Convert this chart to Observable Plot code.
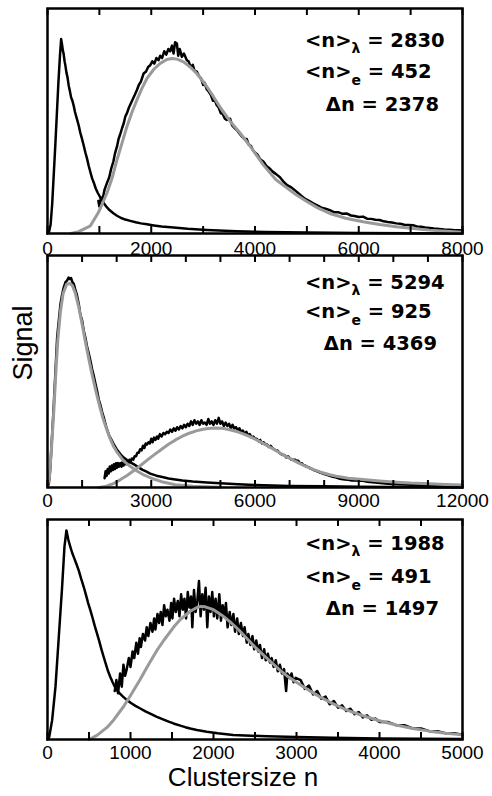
<!DOCTYPE html>
<html><head><meta charset="utf-8">
<script src="https://cdn.jsdelivr.net/npm/d3@7"></script>
<script src="https://cdn.jsdelivr.net/npm/@observablehq/plot@0.6"></script>
<style>
body{margin:0;background:#fff;}
#fig{position:relative;width:492px;height:796px;overflow:hidden;background:#fff;}
#fig svg{position:absolute;left:0;overflow:visible;background:transparent;}
</style></head><body><div id="fig"></div>
<script>
// ---------- Panel 1 data (n, signal) ----------
const p1Narrow = [[0,0],[30,0.8],[60,4],[90,13],[120,26],[150,39],[180,53],[210,67],[240,79],[263,86.4],[280,84],[295,81.5],[310,80],[330,76.5],[346,74.5],[365,71.5],[385,69.5],[410,65.6],[430,63.5],[455,60.5],[480,59],[506,56.7],[530,54],[560,51.5],[603,47.9],[630,45],[660,42.5],[699,39],[730,36],[760,33.5],[795,30],[830,27],[860,24.5],[891,22.7],[930,20],[970,18],[1019,16],[1060,14.5],[1100,13],[1147,11.6],[1200,10.3],[1270,9],[1340,7.9],[1420,6.9],[1500,6.2],[1596,5.6],[1700,5],[1800,4.5],[1917,4.1],[2050,3.6],[2200,3.1],[2430,2.7],[2700,2.1],[3071,1.6],[3648,1],[4200,0.7],[5000,0.4],[6000,0.2],[8000,0]];
const p1Broad = [[981,14.4],[1000,12],[1030,16],[1060,15],[1100,19.5],[1147,22.5],[1190,25],[1230,29],[1270,32],[1300,35.5],[1340,38.7],[1370,42],[1400,44],[1440,47],[1470,49],[1500,52],[1532,53.5],[1570,56],[1610,58],[1650,60],[1690,62],[1724,63.8],[1760,66],[1800,67.5],[1853,71.1],[1900,72],[1940,74],[1981,74.8],[2020,76.5],[2060,75.5],[2100,78],[2140,77],[2173,79],[2210,78],[2250,81],[2290,79.5],[2330,82],[2365,81],[2400,83.5],[2430,80],[2460,85],[2494,84.4],[2520,79],[2550,82],[2590,78.5],[2630,80],[2686,77],[2720,76.5],[2760,74],[2800,75],[2840,72],[2878,72],[2920,70],[2960,69],[3000,66],[3030,67],[3071,64],[3110,63],[3150,61.5],[3190,59],[3230,59],[3263,57],[3300,56],[3340,53.5],[3380,53],[3420,51],[3455,50.5],[3519,51],[3560,48],[3600,47],[3650,46],[3700,44.5],[3750,43],[3800,42],[3840,42],[3880,39.5],[3920,39],[3960,37],[4000,36],[4050,35],[4100,33],[4160,32],[4220,30],[4280,29],[4340,27.5],[4400,26.5],[4481,25],[4550,23],[4620,21.5],[4700,20.5],[4801,18.6],[4880,17],[4960,15.5],[5040,14.5],[5122,13.4],[5200,12.5],[5280,11.5],[5360,11],[5442,10.4],[5520,9.5],[5600,9.5],[5680,8.8],[5763,8.9],[5850,8],[5920,7.8],[6000,7.3],[6083,7.5],[6160,6.6],[6240,6.5],[6320,6.1],[6404,6],[6480,5.4],[6560,5.1],[6640,4.9],[6724,4.5],[6800,4.3],[6880,3.9],[6960,3.8],[7045,3.7],[7120,3.1],[7200,3],[7280,2.7],[7365,2.5],[7450,2.2],[7550,2],[7650,1.8],[7750,1.7],[7850,1.5],[7942,1.5],[8000,1.3]];
const p1Fit = [[450,0],[600,0.8],[827,3.4],[981,9.3],[1147,18],[1250,25],[1340,32.8],[1440,40.5],[1532,47.6],[1630,54],[1724,59.4],[1820,64.5],[1917,68.9],[2050,73],[2173,75.6],[2300,77.3],[2400,77.8],[2500,77.5],[2622,76.3],[2750,74],[2878,71.1],[3050,66],[3199,60.8],[3330,56],[3455,52],[3519,49.9],[3700,45],[3900,39],[4160,30.5],[4400,24],[4600,20.5],[4801,17.1],[5000,14.2],[5200,11.5],[5442,8.9],[5750,6.8],[6083,5.2],[6400,4],[6724,3],[7050,2.2],[7365,1.5],[7700,1],[8000,0.6]];
const p1Ticks = [0,1000,2000,3000,4000,5000,6000,7000,8000];
const p1Labels = [0,2000,4000,6000,8000];

// ---------- Panel 2 data ----------
const p2Narrow = [[0,0.5],[38,1.4],[80,8],[120,19],[150,27],[183,36],[230,50],[279,64.7],[330,72.5],[375,79],[420,83],[471,86.3],[520,88.5],[570,89.3],[610,90.5],[644,89.9],[680,90.3],[720,88.5],[760,87.8],[800,85.5],[850,83],[904,79],[950,74.5],[1000,72],[1048,67.6],[1090,65],[1140,61],[1190,58],[1240,54.7],[1290,51],[1340,48],[1390,44.5],[1433,41.7],[1480,38],[1530,35.5],[1580,32.5],[1625,30.2],[1700,26],[1780,22.5],[1850,20.5],[1913,18.7],[2000,16.5],[2100,14.5],[2201,12.9],[2300,11.8],[2400,10.8],[2500,10],[2600,9],[2750,7.6],[2850,6.9],[2971,6],[3150,5.1],[3350,4.4],[3500,3.9],[3644,3.6],[3900,3],[4200,2.6],[4606,2.2],[5000,1.8],[5500,1.4],[6000,1.1],[6500,0.9],[7000,0.7],[8000,0.5],[9000,0.3],[10000,0.2],[12000,0]];
const p2NarrowFit = [[0,0.5],[60,5],[120,18],[183,33],[250,52],[300,64],[375,76],[450,83.5],[550,87.5],[644,88],[720,87],[800,84],[900,78],[1000,70.5],[1100,62.5],[1200,55],[1300,48],[1400,41.5],[1500,35.5],[1600,30],[1700,25.5],[1800,21.5],[1900,18],[2000,15.5],[2200,11.5],[2400,9],[2600,7],[2800,5.3],[3000,4],[3300,2.5],[3700,1.2],[4200,0.5],[5000,0.1]];
const p2Broad = [[1650,4],[1680,7],[1710,5],[1740,8],[1770,6],[1800,9],[1830,7],[1860,9.5],[1890,7.5],[1920,10],[1950,8],[1980,10.5],[2010,8.5],[2040,10.5],[2070,9],[2106,10.5],[2140,9],[2170,11],[2200,9.5],[2240,11],[2270,10],[2300,11],[2340,10.5],[2370,12],[2400,11],[2440,12.5],[2480,12],[2520,13.5],[2560,13.5],[2600,15],[2640,15],[2680,16.5],[2720,16],[2760,18],[2800,17],[2840,19],[2875,18.5],[2920,19.5],[2960,19],[3000,21],[3040,19.5],[3080,21.5],[3120,20.5],[3164,22],[3200,21],[3250,23],[3300,22],[3350,23.5],[3400,23],[3452,24],[3500,23.5],[3550,25],[3600,24],[3650,25.5],[3700,24.5],[3750,26],[3800,25],[3850,26.5],[3900,25.5],[3950,27],[4000,26],[4050,27.5],[4100,26.5],[4150,28.5],[4200,27],[4250,29],[4300,27.5],[4350,28.5],[4400,27],[4450,29],[4500,27.5],[4550,28],[4600,27],[4650,29.5],[4700,27.5],[4750,28.5],[4800,27],[4850,29],[4900,27.5],[4950,30],[5000,27.5],[5050,28.5],[5100,26.5],[5150,28],[5200,26.5],[5250,27.5],[5300,25.5],[5350,27],[5400,25.5],[5450,26],[5500,24.5],[5550,25.5],[5600,24],[5650,24.5],[5700,23],[5750,24],[5800,22.5],[5850,23],[5900,21.5],[5950,22],[6000,21],[6050,21],[6100,20],[6150,20.5],[6200,19],[6250,19.5],[6300,18.5],[6350,18.5],[6400,17.5],[6450,18],[6500,17],[6550,16.5],[6600,16],[6650,16],[6700,15],[6750,14.5],[6800,14],[6850,14],[6900,13],[6950,13.5],[7000,12.8],[7050,12],[7100,12],[7150,12],[7200,11.5],[7250,11.5],[7300,10.5],[7350,10.5],[7400,9.7],[7450,9.5],[7500,9],[7550,8.8],[7600,8.2],[7650,8],[7700,7.5],[7800,7],[7900,6.3],[8000,5.8],[8080,5.5],[8163,5],[8250,4.6],[8330,4.4],[8420,3.9],[8500,3.7],[8600,3.4],[8700,3.3],[8800,3],[8900,3],[9000,2.9],[9125,2.9],[9250,2.5],[9400,2.3],[9550,2],[9700,1.8],[9850,1.6],[10087,1.4],[10300,1.3],[10500,1.2],[10800,1.1],[11048,1],[11300,0.9],[11600,0.8],[12000,0.6]];
const p2BroadFit = [[1500,0],[1700,0.6],[1900,1.6],[2100,3.3],[2300,5.2],[2500,7.3],[2700,9.6],[2900,12],[3100,14.3],[3300,16.5],[3500,18.6],[3700,20.5],[3900,22.1],[4100,23.4],[4300,24.4],[4500,25.1],[4700,25.5],[4900,25.6],[5100,25.4],[5300,24.8],[5500,24],[5700,22.9],[5900,21.6],[6100,20.1],[6300,18.5],[6500,16.8],[6700,15.1],[6900,13.4],[7100,11.8],[7300,10.3],[7500,8.9],[7700,7.7],[7900,6.6],[8163,5.5],[8400,4.7],[8700,4],[9125,3.4],[9600,2.8],[10087,2.3],[10500,1.9],[11048,1.6],[11500,1.3],[12000,1.1]];
const p2Ticks = [0,1000,2000,3000,4000,5000,6000,7000,8000,9000,10000,11000,12000];
const p2Labels = [0,3000,6000,9000,12000];

// ---------- Panel 3 data ----------
const p3Narrow = [[0,0],[20,1],[56,8.8],[96,23.9],[136,46.6],[176,69.3],[204,87.4],[228,95],[250,91],[276,87.4],[296,85],[316,83],[346,80],[376,76.9],[406,73],[437,69.3],[465,65.5],[490,62],[517,58.7],[545,55],[570,51.5],[597,48.1],[625,44.5],[650,41],[677,37.5],[705,34],[730,31],[757,28.4],[785,26],[810,24],[837,22.4],[870,21],[910,19.5],[958,17.9],[1010,16.5],[1060,15.3],[1118,14.1],[1180,12.8],[1250,11.5],[1318,10.3],[1400,9],[1460,8.1],[1518,7.3],[1600,6.3],[1660,5.6],[1719,5],[1800,4.3],[1919,3.5],[2050,2.8],[2236,2],[2450,1.7],[2640,1.5],[3000,1.1],[3440,0.8],[4000,0.5],[4500,0.3],[5000,0.2]];
const p3Broad = [[810,22],[830,27],[850,21],[875,30],[895,24],[915,34],[935,29],[955,32],[980,37],[1000,33],[1025,40],[1045,37],[1070,44],[1090,39],[1110,46],[1125,42],[1150,48],[1175,45],[1195,51],[1215,47],[1240,53],[1265,49],[1285,55],[1300,50],[1325,57],[1345,53],[1365,58],[1385,52],[1405,61],[1425,56],[1445,59],[1470,54],[1490,62],[1505,55],[1525,64],[1545,58],[1570,63],[1590,56],[1610,66],[1630,59],[1650,64],[1670,55],[1690,67],[1710,60],[1730,65],[1745,51],[1765,68],[1785,58],[1805,63],[1825,72],[1845,56],[1865,66],[1885,59],[1905,69],[1925,51],[1945,65],[1965,58],[1985,67],[2005,56],[2025,64],[2045,55],[2070,66],[2090,54],[2110,61],[2130,56],[2150,62],[2170,51],[2195,58],[2215,52],[2240,57],[2260,49],[2285,55],[2305,48],[2330,53],[2355,47],[2375,51],[2400,44],[2420,48],[2445,43],[2470,47],[2490,41],[2515,45],[2540,40],[2560,43],[2585,37],[2610,41],[2630,36],[2655,39],[2680,35],[2700,37],[2725,33],[2750,36],[2775,31],[2800,34],[2825,30],[2850,32],[2875,22],[2890,30],[2915,28],[2940,30],[2965,26],[2990,28],[3050,27],[3100,23],[3150,24.5],[3200,20.5],[3250,22],[3300,18.5],[3350,19.5],[3400,16],[3450,17.5],[3500,14.5],[3550,15.5],[3600,13],[3650,14],[3700,11.5],[3750,12.5],[3800,10],[3850,11],[3900,9],[3950,9.5],[4000,8],[4100,8],[4200,6.5],[4300,6.5],[4400,5],[4500,5],[4600,3.8],[4700,3.8],[4800,2.8],[4900,2.8],[5000,2.2]];
const p3Fit = [[500,0],[600,2],[717,5.5],[800,9],[917,15],[1000,20],[1118,27.4],[1200,33],[1318,40.5],[1400,45],[1518,51],[1600,54.5],[1719,58.3],[1800,60],[1850,60.5],[1900,60.3],[2000,59],[2100,56.5],[2200,53.5],[2300,50],[2400,46],[2500,42],[2600,38.5],[2700,35],[2800,31.5],[2900,28.5],[3000,26],[3100,23.5],[3200,21.2],[3300,19],[3400,17],[3600,13.5],[3800,10.8],[4000,8.5],[4200,6.6],[4400,5],[4600,3.8],[4800,2.8],[5000,2.1]];
const p3Ticks = [0,500,1000,1500,2000,2500,3000,3500,4000,4500,5000];
const p3Labels = [0,1000,2000,3000,4000,5000];

// ---------- Annotations ----------
const nLambda = [2830, 5294, 1988];
const nE = [452, 925, 491];
const deltaN = [2378, 4369, 1497];
const yLabel = "Signal";
const xLabel = "Clustersize n";

const fig = document.getElementById("fig");
const tickFont = "'Liberation Sans', Arial, Helvetica, sans-serif";
const annFont = "'DejaVu Sans', Verdana, sans-serif";

function toObj(arr){ return arr.map(([n, s]) => ({n, s})); }

function panel(cfg){
  const mt = 8, mb = cfg.mb, ih = cfg.innerH;
  const h = mt + ih + mb;
  const marks = [
    ...cfg.black.map(a => Plot.line(toObj(a), {x: "n", y: "s", stroke: "#000", strokeWidth: 2.5})),
    ...cfg.gray.map(a => Plot.line(toObj(a), {x: "n", y: "s", stroke: "#9a9a9a", strokeWidth: 3})),
    Plot.ruleX(cfg.ticks, {insetTop: ih - 7, stroke: "#000", strokeWidth: 2}),
    Plot.ruleX(cfg.ticks, {insetBottom: ih - 7, stroke: "#000", strokeWidth: 2}),
    Plot.axisX(cfg.labels, {tickSize: 0, tickPadding: cfg.pad, tickFormat: d => String(d), fontSize: 19, label: null, fill: "#000"}),
    Plot.frame({stroke: "#000", strokeWidth: 2.5}),
    ...(cfg.extra || [])
  ];
  const svg = Plot.plot({
    width: 492, height: h,
    marginTop: mt, marginBottom: mb, marginLeft: 47, marginRight: 30,
    x: {domain: [0, cfg.xMax], label: null},
    y: {domain: [0, 100], axis: null},
    style: {fontFamily: tickFont, fontSize: "19px", color: "#000", background: "transparent", overflow: "visible"},
    marks
  });
  svg.style.top = (cfg.top - mt) + "px";
  fig.appendChild(svg);

  const g = d3.select(svg).append("g")
    .attr("font-family", annFont).attr("font-weight", "bold")
    .attr("font-size", 19.5).attr("fill", "#000").attr("text-anchor", "start");
  const ys = cfg.textY.map(y => y - (cfg.top - mt));
  const t1 = g.append("text").attr("x", 305).attr("y", ys[0]).attr("text-anchor", "start");
  t1.append("tspan").text("<n>");
  t1.append("tspan").attr("font-size", 14).attr("dy", 6).text("λ");
  t1.append("tspan").attr("dy", -6).text(" = " + nLambda[cfg.i]);
  const t2 = g.append("text").attr("x", 305).attr("y", ys[1]).attr("text-anchor", "start");
  t2.append("tspan").text("<n>");
  t2.append("tspan").attr("font-size", 14).attr("dy", 7).text("e");
  t2.append("tspan").attr("dy", -7).text(" = " + nE[cfg.i]);
  g.append("text").attr("x", cfg.endX).attr("y", ys[2]).attr("text-anchor", "end").text("Δn = " + deltaN[cfg.i]);
}

panel({i: 0, top: 8, innerH: 225, mb: 30, pad: 8, xMax: 8000, ticks: p1Ticks, labels: p1Labels,
  black: [p1Narrow, p1Broad], gray: [p1Fit], textY: [47, 78, 111], endX: 439});

panel({i: 1, top: 255, innerH: 232, mb: 26, pad: 6, xMax: 12000, ticks: p2Ticks, labels: p2Labels,
  black: [p2Narrow, p2Broad], gray: [p2NarrowFit, p2BroadFit], textY: [289, 318, 350], endX: 437,
  extra: [Plot.text([yLabel], {frameAnchor: "left", text: d => d, rotate: -90, dx: -24, dy: 9, fontSize: 27, fill: "#000"})]});

panel({i: 2, top: 519, innerH: 220, mb: 57, pad: 6, xMax: 5000, ticks: p3Ticks, labels: p3Labels,
  black: [p3Narrow, p3Broad], gray: [p3Fit], textY: [550, 583, 615], endX: 439,
  extra: [Plot.text([xLabel], {frameAnchor: "bottom", text: d => d, dx: -12, dy: 46, fontSize: 26, fill: "#000"})]});
</script>
</body></html>
